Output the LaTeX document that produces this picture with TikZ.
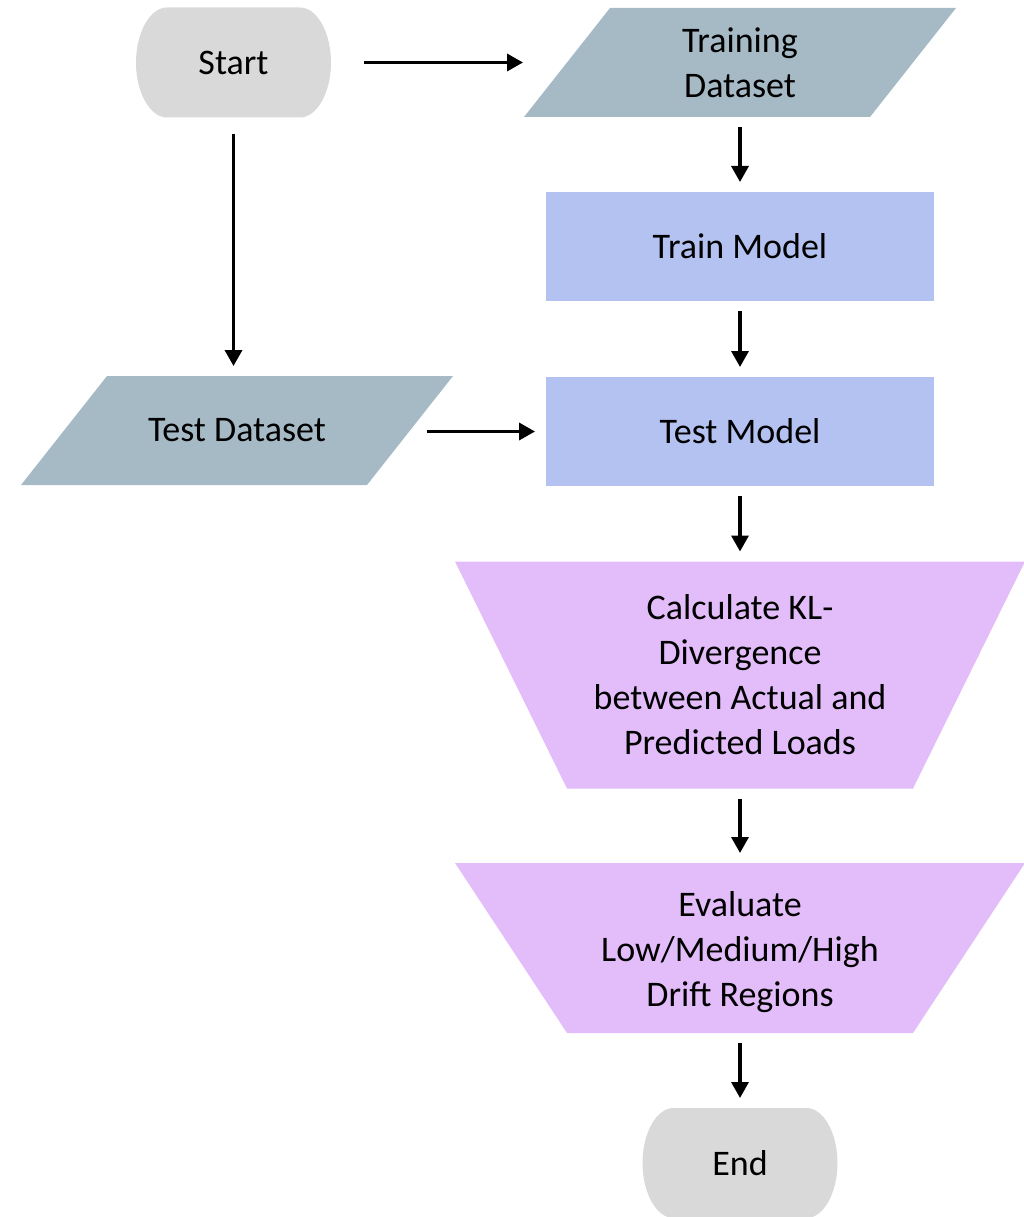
\documentclass[tikz,border=0pt]{standalone}
\usepackage{fontspec}
\setmainfont{Carlito}
\usetikzlibrary{arrows.meta,calc}
\definecolor{termgray}{HTML}{D9D9D9}
\definecolor{datablue}{HTML}{A6BAC6}
\definecolor{procblue}{HTML}{B4C2F2}
\definecolor{manpurple}{HTML}{E3BDFA}
\tikzset{
  base/.style={inner sep=0pt, outer sep=0pt, align=center,
    font=\fontsize{36}{45}\selectfont, text=black},
  terminal/.style={base, minimum width=195pt, minimum height=110pt,
    path picture={
      \coordinate (NW) at (path picture bounding box.north west);
      \coordinate (NE) at (path picture bounding box.north east);
      \coordinate (SW) at (path picture bounding box.south west);
      \coordinate (SE) at (path picture bounding box.south east);
      \coordinate (W) at (path picture bounding box.west);
      \coordinate (E) at (path picture bounding box.east);
      \fill[termgray] ($(NW)+(31pt,0pt)$) -- ($(NE)+(-31pt,0pt)$)
        .. controls ($(NE)+(-14pt,0pt)$) and ($(E)+(0pt,30pt)$) .. (E)
        .. controls ($(E)+(0pt,-30pt)$) and ($(SE)+(-14pt,0pt)$) .. ($(SE)+(-31pt,0pt)$)
        -- ($(SW)+(31pt,0pt)$)
        .. controls ($(SW)+(14pt,0pt)$) and ($(W)+(0pt,-30pt)$) .. (W)
        .. controls ($(W)+(0pt,30pt)$) and ($(NW)+(14pt,0pt)$) .. cycle;
    }},
  dataio/.style={base, minimum width=432pt, minimum height=109pt,
    path picture={
      \fill[datablue] ($(path picture bounding box.north west)+(86pt,0pt)$)
        -- (path picture bounding box.north east)
        -- ($(path picture bounding box.south east)+(-86pt,0pt)$)
        -- (path picture bounding box.south west) -- cycle;
    }},
  process/.style={base, fill=procblue, minimum width=388pt, minimum height=109pt},
  manual/.style={base, minimum width=570pt,
    path picture={
      \fill[manpurple] (path picture bounding box.north west)
        -- (path picture bounding box.north east)
        -- ($(path picture bounding box.south east)+(-112pt,0pt)$)
        -- ($(path picture bounding box.south west)+(112pt,0pt)$) -- cycle;
    }},
  manuallow/.style={base, minimum width=570pt,
    path picture={
      \fill[manpurple] (path picture bounding box.north west)
        -- (path picture bounding box.north east)
        -- ($(path picture bounding box.south east)+(-112pt,8pt)$)
        -- ($(path picture bounding box.south west)+(112pt,8pt)$) -- cycle;
    }},
  flow/.style={line width=3.4pt, -{Triangle[length=16pt,width=17pt]},
    shorten <=10pt, shorten >=10pt}
}
\begin{document}
\begin{tikzpicture}[x=1pt,y=-1pt]
\useasboundingbox (0,0) rectangle (1024,1217);
\node[terminal] (start) at (233.5,62.5) {Start};
\node[dataio] (trainds) at (740,62.5) {Training\\Dataset};
\node[process] (trainmodel) at (740,246.5) {Train Model};
\node[dataio] (testds) at (237,430.5) {Test Dataset};
\node[process] (testmodel) at (740,431.5) {Test Model};
\node[manual, minimum height=227pt] (kl) at (740,675) {Calculate KL-\\Divergence\\between Actual and\\Predicted Loads};
\node[manuallow, minimum height=178pt] (eval) at (740,952) {Evaluate\\Low/Medium/High\\Drift Regions};
\node[terminal] (end) at (740,1163) {End};

\draw[flow, shorten <=32.5pt, shorten >=1pt] (start.east) -- (trainds.west);
\draw[flow, shorten <=17pt] (start.south) -- (start.south |- testds.north);
\draw[flow, shorten <=0pt, shorten >=11pt] ([xshift=-26pt,yshift=-1pt]testds.east) -- (testmodel.west);
\draw[flow] (trainds.south) -- (trainmodel.north);
\draw[flow] (trainmodel.south) -- (testmodel.north);
\draw[flow] (testmodel.south) -- (kl.north);
\draw[flow] (kl.south) -- (eval.north);
\draw[flow, shorten <=2pt] (eval.south) -- (end.north);
\end{tikzpicture}
\end{document}
